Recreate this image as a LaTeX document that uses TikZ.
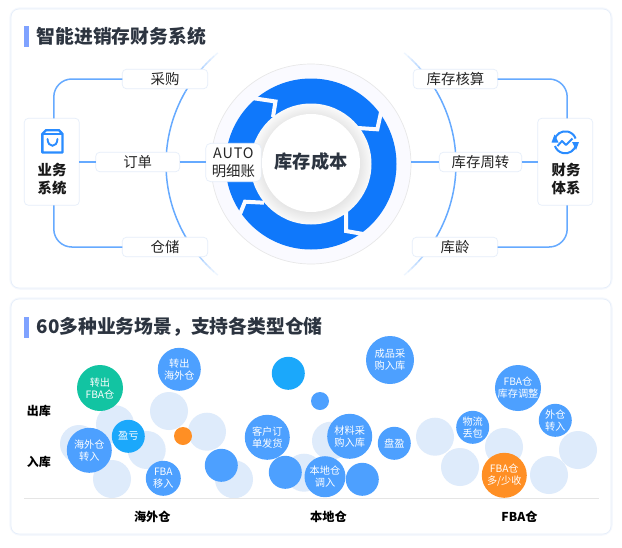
\documentclass[tikz,border=0pt]{standalone}
\usepackage{fontspec}
\setmainfont{Noto Sans CJK SC}
\definecolor{edgeblue}{HTML}{E6EEFA}
\definecolor{glowblue}{HTML}{F5F8FD}
\definecolor{linkblue}{HTML}{66AAFF}
\definecolor{ringblue}{HTML}{0F78FB}
\definecolor{softblue}{HTML}{DEEBFB}
\definecolor{bubblue}{HTML}{4DA0FF}
\definecolor{skyblue}{HTML}{1BA8FB}
\definecolor{tealdot}{HTML}{12C4A2}
\definecolor{orangedot}{HTML}{FF8F24}
\definecolor{barblue}{HTML}{7FA2FF}
\definecolor{inkdark}{HTML}{2C3440}
\definecolor{iconblue}{HTML}{2A8CFF}
\pgfdeclareradialshading{halo}{\pgfpoint{0bp}{0bp}}{color(0bp)=(black!13); color(18bp)=(black!13); color(25bp)=(black!2); color(50bp)=(black!2)}
\tikzset{
	card/.style={fill=white,draw=edgeblue,line width=0.7pt,rounded corners=8pt},
	cardglow/.style={draw=glowblue,line width=3.5pt,rounded corners=9pt},
	titlebar/.style={fill=barblue,draw=none,inner sep=0,outer sep=0,minimum width=5pt,minimum height=21pt},
	headline/.style={anchor=west,inner sep=0,text=inkdark,font=\fontsize{18.8}{20}\selectfont\bfseries},
	tagbox/.style={fill=white,draw=edgeblue,line width=0.7pt,rounded corners=4pt,inner sep=0,outer sep=0,minimum height=19.4pt,minimum width=#1,font=\fontsize{14.4}{18}\selectfont,text=black!85},
	sidebox/.style={fill=white,draw=edgeblue,line width=0.7pt,rounded corners=4pt,inner sep=0,outer sep=0,minimum width=55pt,minimum height=87pt},
	sidetext/.style={inner sep=0,align=center,font=\fontsize{14.4}{18}\selectfont\bfseries,text=black!90},
	link/.style={draw=linkblue,line width=1.5pt},
	softdot/.style={circle,fill=softblue,inner sep=0,minimum size=38pt},
	bub/.style={circle,fill=bubblue,inner sep=0,minimum size=#1,text=white,align=center,font=\fontsize{10.2}{12}\selectfont},
	rowlabel/.style={inner sep=0,font=\fontsize{12}{14}\selectfont\bfseries,text=black},
	collabel/.style={inner sep=0,font=\fontsize{12.2}{14}\selectfont\bfseries,text=black},
	notch/.style={draw=black!1!blue!2!white,line width=4pt,line join=miter},
}
\begin{document}
\begin{tikzpicture}[x=1pt,y=-1pt]
	\useasboundingbox (0,0) rectangle (622,547);
	%cards
	\draw[cardglow] (11,9) rectangle (611,288);
	\draw[cardglow] (11,299) rectangle (611,534);
	\draw[card] (11,9) rectangle (611,288);
	\draw[card] (11,299) rectangle (611,534);
	%titles
	\node[titlebar] (barA) at (26.5,36.5) {};
	\node[headline] (titleA) at (36.5,36) {智能进销存财务系统};
	\node[titlebar] (barB) at (26.5,327.5) {};
	\node[headline] (titleB) at (36.5,327) {60多种业务场景，支持各类型仓储};

	%big arcs
	\coordinate (mid) at (311,164);
	\draw[link] ([shift={(150:145pt)}]mid) arc[start angle=150,end angle=210,radius=145pt];
	\draw[link] ([shift={(-30:145pt)}]mid) arc[start angle=-30,end angle=30,radius=145pt];
	\foreach \i in {0,...,9} {
		\pgfmathsetmacro{\fade}{1-\i/10}
		\pgfmathsetmacro{\da}{30+\i*2}
		\pgfmathsetmacro{\db}{32+\i*2}
		\draw[link,opacity=\fade] ([shift={(180-\da:145pt)}]mid) arc[start angle=180-\da,end angle=180-\db,radius=145pt];
		\draw[link,opacity=\fade] ([shift={(180+\da:145pt)}]mid) arc[start angle=180+\da,end angle=180+\db,radius=145pt];
		\draw[link,opacity=\fade] ([shift={(\da:145pt)}]mid) arc[start angle=\da,end angle=\db,radius=145pt];
		\draw[link,opacity=\fade] ([shift={(-\da:145pt)}]mid) arc[start angle=-\da,end angle=-\db,radius=145pt];
	}

	%ring
	\node[circle,fill=black!1!blue!2!white,draw=black!9,line width=0.7pt,inner sep=0,outer sep=0,minimum size=200pt] (hub) at (mid) {};
	\node[circle,fill=ringblue,inner sep=0,minimum size=171pt] (ring) at (311,164) {};
	\draw[notch] (381.5,110) -- (377.3,129.3) -- (358,128);
	\draw[notch] (366,234.5) -- (346,231) -- (346,212);
	\draw[notch] (264,202.7) -- (245,201.7) -- (238,219);
	\draw[notch] (250,97.7) -- (275.5,101.5) -- (273,117);
	\node[circle,shading=halo,inner sep=0,minimum size=121pt] (halo) at (311,164) {};
	\node[circle,fill=white,inner sep=0,minimum size=98pt] (centre) at (311,163) {};
	\node[inner sep=0,text=inkdark,font=\fontsize{18.2}{20}\selectfont\bfseries] (core) at (311,161.5) {库存成本};
	\node[tagbox=55.4pt,minimum height=38.4pt,rounded corners=5pt,align=center] (auto) at (233.4,162.5) {{\addfontfeature{LetterSpace=6}AUTO}\\明细账};

	%boxes
	\node[sidebox] (biz) at (51.8,161.8) {};
	\node[sidebox] (fin) at (565.2,161.8) {};
	\node[tagbox=85.4pt] (buy) at (165,79) {采购};
	\node[tagbox=84pt] (order) at (137.7,162) {订单};
	\node[tagbox=85.4pt] (store) at (165,247) {仓储};
	\node[tagbox=84.4pt] (cost) at (455.5,79) {库存核算};
	\node[tagbox=82.4pt] (turn) at (480.5,162) {库存周转};
	\node[tagbox=85.4pt] (age) at (455,247) {库龄};
	\node[sidetext] (bizname) at (52,179.3) {业务\\系统};
	\node[sidetext] (finname) at (566,179.3) {财务\\体系};

	%links
	\draw[link,rounded corners=18pt] ([xshift=2pt]biz.north) |- (buy.west);
	\draw[link,rounded corners=18pt] ([xshift=2pt]biz.south) |- (store.west);
	\draw[link,rounded corners=18pt] ([xshift=2pt]fin.north) |- (cost.east);
	\draw[link,rounded corners=18pt] ([xshift=2pt]fin.south) |- (age.east);
	\draw[link] (biz.east |- order.west) -- (order.west);
	\draw[link] (order.east) -- (auto.west |- order.east);
	\draw[link] (hub.east |- turn.west) -- (turn.west);
	\draw[link] (turn.east) -- (fin.west |- turn.east);

	%bag icon
	\draw[iconblue,line width=2.4pt,line join=round] (42.3,134) -- (46,130.2) -- (59,130.2) -- (62.5,134) -- (62.5,152.5) -- (42.3,152.5) -- cycle;
	\draw[iconblue,line width=2.4pt] (42.3,134) -- (62.5,134);
	\draw[iconblue,line width=1.9pt,line cap=round] (47.5,139) .. controls (48,148) and (57,148) .. (57.5,139);
	%swap icon
	\draw[iconblue,line width=2pt] ([shift={(168:11pt)}]565.3,142.3) arc[start angle=168,end angle=20,radius=11pt];
	\draw[iconblue,line width=2pt] ([shift={(-12:11pt)}]565.3,142.3) arc[start angle=-12,end angle=-160,radius=11pt];
	\fill[iconblue] (551.5,142.5) -- (558.5,142.5) -- (554.5,134.5) -- cycle;
	\fill[iconblue] (572,142) -- (579,142) -- (576,150) -- cycle;
	\draw[iconblue,line width=1.9pt,line join=round] (557.5,146) -- (562,141) -- (566,145) -- (572.5,138.5);

	%soft dots
	\foreach \x/\y [count=\n] in {79/444,115/424.3,146.7/450,112/479,169/411,207/431.7,234/479.3,304/472.7,331/440.7,435/436.7,460/467,504/447,549/475,578/450} {
		\node[softdot] (soft\n) at (\x,\y) {};
	}

	%bubbles
	\node[bub=43pt] (b1) at (179.3,369.3) {转出\\海外仓};
	\node[bub=46pt,fill=tealdot] (b2) at (100,388) {转出\\FBA仓};
	\node[bub=45pt] (b3) at (89.3,450.3) {海外仓\\转入};
	\node[bub=33pt,fill=skyblue] (b4) at (128.3,436.3) {盈亏};
	\node[bub=35pt] (b5) at (163.3,478.3) {FBA\\移入};
	\node[bub=18pt,fill=orangedot] (b6) at (183,436) {};
	\node[bub=33pt] (b7) at (221.3,465.3) {};
	\node[bub=33pt,fill=skyblue] (b8) at (288.3,373.3) {};
	\node[bub=45pt] (b9) at (267.3,437.3) {客户订\\单发货};
	\node[bub=33pt] (b10) at (285.3,472.3) {};
	\node[bub=41pt] (b11) at (325,476.7) {本地仓\\调入};
	\node[bub=33pt] (b12) at (362.3,479.3) {};
	\node[bub=18pt] (b13) at (320,401) {};
	\node[bub=45pt] (b14) at (349.7,436.3) {材料采\\购入库};
	\node[bub=33pt] (b15) at (394.3,443.3) {盘盈};
	\node[bub=48pt] (b16) at (390,360) {成品采\\购入库};
	\node[bub=33pt] (b17) at (472.7,427.3) {物流\\丢包};
	\node[bub=46pt] (b18) at (518,388) {FBA仓\\库存调整};
	\node[bub=33pt] (b19) at (555.3,420.3) {外仓\\转入};
	\node[bub=45pt,fill=orangedot] (b20) at (504.3,475.3) {FBA仓\\多/少收};

	%axis
	\coordinate (axisL) at (24,498.3);
	\coordinate (axisR) at (599,498.3);
	\draw[draw=black!10,line width=0.8pt] (axisL) -- (axisR);
	\node[rowlabel] (rowout) at (39,410.5) {出库};
	\node[rowlabel] (rowin) at (39,461.7) {入库};
	\node[collabel] (colA) at (152.3,516.7) {海外仓};
	\node[collabel] (colB) at (328.5,516.7) {本地仓};
	\node[collabel] (colC) at (519.5,516.7) {FBA仓};
\end{tikzpicture}
\end{document}
